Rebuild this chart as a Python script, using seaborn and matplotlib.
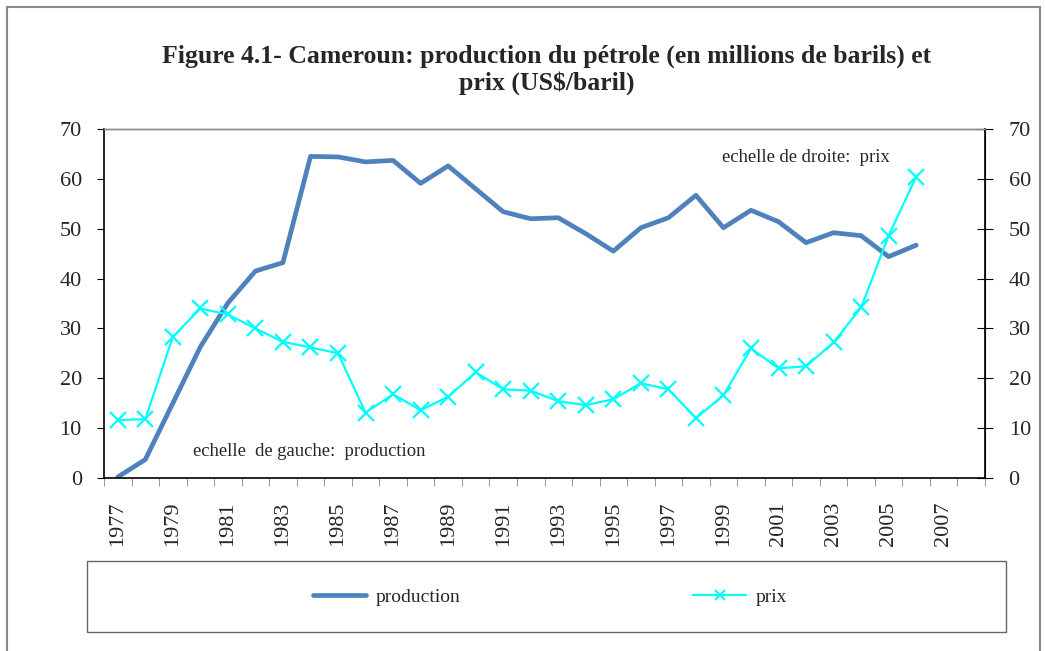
import numpy as np
import pandas as pd
import seaborn as sns
import matplotlib.pyplot as plt
from matplotlib.patches import Rectangle

annees = list(range(1977, 2007))
production = [0.2, 3.7, 15.0, 26.3, 35.1, 41.5, 43.2, 64.5, 64.4, 63.4,
              63.7, 59.1, 62.6, 58.0, 53.4, 52.0, 52.2, 49.0, 45.5, 50.2,
              52.2, 56.7, 50.2, 53.7, 51.4, 47.2, 49.2, 48.6, 44.4, 46.7]
prix = [11.6, 11.8, 28.3, 34.0, 32.8, 30.0, 27.3, 26.2, 25.0, 13.1,
        16.8, 13.6, 16.3, 21.2, 17.8, 17.5, 15.4, 14.6, 15.8, 19.0,
        17.8, 12.0, 16.6, 26.0, 22.0, 22.4, 27.2, 34.2, 48.6, 60.4]
etiquettes = list(range(1977, 2009, 2))

df = pd.DataFrame({'annee': annees, 'production': production, 'prix': prix})

sns.set_style('white')
plt.rcParams['font.family'] = ['Liberation Serif', 'DejaVu Serif']

fig = plt.figure(figsize=(10.45, 6.51), dpi=100)
ax = fig.add_axes([104 / 1045, 173 / 651, 881 / 1045, 349 / 651])
ax2 = ax.twinx()

sns.lineplot(data=df, x='annee', y='production', ax=ax, color='#4F81BD',
             linewidth=3.4, label='production', legend=False)
sns.lineplot(data=df, x='annee', y='prix', ax=ax2, color='#00FFFF',
             linewidth=1.6, marker='x', markersize=11, markeredgewidth=1.6,
             markeredgecolor='#00FFFF', label='prix', legend=False)

for a in (ax, ax2):
    a.set_ylim(0, 70)
    a.set_yticks(range(0, 71, 10))
    a.set_xlim(1976.5, 2008.5)
    a.set_xlabel('')
    a.set_ylabel('')

ax.set_xticks(etiquettes)
ax.set_xticklabels([str(e) for e in etiquettes], rotation=90, fontsize=16)
ax.set_xticks(np.arange(1976.5, 2009, 1), minor=True)
ax.tick_params(axis='x', which='major', length=0, pad=17)
ax.tick_params(axis='x', which='minor', length=6, color='#888888', direction='out', bottom=True)
ax.tick_params(axis='y', length=5, direction='out', left=True, labelsize=16, color='black', pad=11)
ax2.tick_params(axis='y', length=12, direction='inout', right=True, labelsize=16, color='black', pad=11)

for s in ('left', 'bottom'):
    ax.spines[s].set_color('black')
    ax.spines[s].set_linewidth(1.2)
ax2.spines['right'].set_color('black')
ax2.spines['right'].set_linewidth(1.2)
for a in (ax, ax2):
    a.spines['top'].set_color('#888888')
    a.spines['top'].set_linewidth(1.0)
ax2.spines['left'].set_visible(False)
ax2.spines['bottom'].set_visible(False)

ax.text(1979.73, 5.3, 'echelle  de gauche:  production', fontsize=13.4, va='center')
ax2.text(1998.95, 64.3, 'echelle de droite:  prix', fontsize=13.4, va='center')

fig.text(0.523, 0.8925, 'Figure 4.1- Cameroun: production du pétrole (en millions de barils) et\nprix (US$/baril)',
         ha='center', va='center', fontsize=18.5, fontweight='bold', linespacing=1.15)

# cadre de la légende
fig.patches.append(Rectangle((87 / 1045, 19 / 651), 919 / 1045, 71 / 651,
                             transform=fig.transFigure, fill=False,
                             edgecolor='#666666', linewidth=1.0))
# cadre extérieur
fig.patches.append(Rectangle((7 / 1045, -0.02), 1033 / 1045, (644 / 651) + 0.02,
                             transform=fig.transFigure, fill=False,
                             edgecolor='#888888', linewidth=1.5))

h1, l1 = ax.get_legend_handles_labels()
h2, l2 = ax2.get_legend_handles_labels()
fig.legend(h1 + h2, l1 + l2, loc='center', bbox_to_anchor=(550 / 1045, 54 / 651),
           ncol=2, frameon=False, fontsize=14, columnspacing=12,
           handlelength=2.7, handletextpad=0.5, markerscale=0.7)

plt.savefig('out.png', dpi=100)
plt.close()
